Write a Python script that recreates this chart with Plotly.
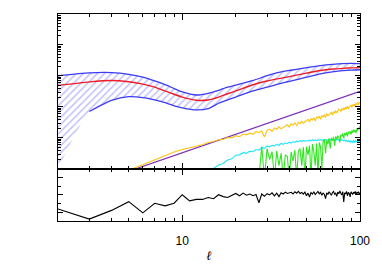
import plotly.graph_objects as go
from plotly.subplots import make_subplots

# ---------------- data ----------------
band_l = [2, 3, 4, 5, 6, 7, 8, 9, 10, 12, 14, 16, 18, 20, 25, 30, 35, 40, 50, 60, 70, 80, 90, 100]
theory = [0.490, 0.641, 0.713, 0.650, 0.545, 0.435, 0.327, 0.256, 0.207, 0.164, 0.167, 0.207,
          0.265, 0.327, 0.519, 0.687, 0.820, 0.944, 1.227, 1.496, 1.663, 1.758, 1.824, 1.849]
band_upper = [1.014, 1.253, 1.280, 1.127, 0.912, 0.687, 0.519, 0.391, 0.305, 0.242, 0.275, 0.344,
              0.435, 0.500, 0.713, 1.014, 1.298, 1.496, 1.849, 2.159, 2.366, 2.505, 2.541, 2.488]
# lower bound; at l=2 it falls off the bottom of the plot
band_lower = [0.001, 0.0708, 0.162, 0.214, 0.200, 0.168, 0.136, 0.108, 0.0932, 0.0798, 0.0875, 0.131,
              0.168, 0.207, 0.327, 0.435, 0.556, 0.664, 0.912, 1.167, 1.345, 1.475, 1.549, 1.582]

purple_l = [5, 10, 20, 30, 50, 70, 100]
purple = [0.00083, 0.00325, 0.0129, 0.0288, 0.0798, 0.156, 0.316]

yellow_l = list(range(5, 101))
yellow = [0.00089, 0.00138, 0.00195, 0.00269, 0.00347, 0.00417, 0.00468, 0.0055, 0.0060, 0.0071,
          0.0076, 0.0087, 0.0089, 0.0102, 0.0100, 0.0117, 0.0109, 0.0132, 0.0124, 0.0141,
          0.0130, 0.0158, 0.0149, 0.0166, 0.0107, 0.0174, 0.0191, 0.0162, 0.0209, 0.0190,
          0.0229, 0.0195, 0.0218, 0.0240, 0.0263, 0.0224, 0.0282, 0.0257, 0.0302, 0.0251,
          0.0316, 0.0288, 0.0347, 0.0295, 0.0331, 0.0372, 0.0398, 0.0326, 0.0417, 0.0380,
          0.0447, 0.0347, 0.0468, 0.0437, 0.0501, 0.0398, 0.0525, 0.0468, 0.0562, 0.0447,
          0.0603, 0.0525, 0.0575, 0.0631, 0.0661, 0.0540, 0.0708, 0.0617, 0.0759, 0.0631,
          0.0724, 0.0851, 0.0794, 0.0708, 0.0891, 0.0776, 0.0933, 0.0813, 0.100, 0.0851,
          0.105, 0.0871, 0.0977, 0.110, 0.115, 0.0955, 0.117, 0.107, 0.123, 0.105,
          0.129, 0.118, 0.138, 0.117, 0.141, 0.132]

cyan_l = list(range(14, 101))
cyan = [0.00079, 0.00105, 0.00132, 0.00148, 0.00191, 0.00209, 0.00275, 0.00282, 0.00331, 0.00316,
        0.00372, 0.00355, 0.00417, 0.00398, 0.00479, 0.00457, 0.00550, 0.00513, 0.00575, 0.00550,
        0.00617, 0.00575, 0.00661, 0.00617, 0.00692, 0.00646, 0.00724, 0.00676, 0.00759, 0.00708,
        0.00776, 0.00741, 0.00813, 0.00759, 0.00832, 0.00776, 0.00813, 0.00776, 0.00851, 0.00794,
        0.00871, 0.00813, 0.00851, 0.00794, 0.00871, 0.00832, 0.00891, 0.00813, 0.00871, 0.00832,
        0.00891, 0.00832, 0.00871, 0.00912, 0.00851, 0.00891, 0.00851, 0.00912, 0.00832, 0.00891,
        0.00851, 0.00912, 0.00832, 0.00871, 0.00813, 0.00871, 0.00832, 0.00794, 0.00851, 0.00776,
        0.00832, 0.00759, 0.00813, 0.00741, 0.00794, 0.00724, 0.00776, 0.00708, 0.00794, 0.00724,
        0.00813, 0.00741, 0.00794, 0.00708, 0.00776, 0.00692, 0.00759]

green_l = list(range(20, 101))
green = [0.00105, 0.0005, 0.0005, 0.00071, 0.0005, 0.0005, 0.0005, 0.0005, 0.00525, 0.0005,
         0.00447, 0.002, 0.00355, 0.0005, 0.0038, 0.00126, 0.00316, 0.0005, 0.00282, 0.00251,
         0.0005, 0.00355, 0.00178, 0.00398, 0.0005, 0.0038, 0.00447, 0.00126, 0.005, 0.0005,
         0.00525, 0.00282, 0.00562, 0.0005, 0.0063, 0.00355, 0.00126, 0.0066, 0.00063, 0.00708,
         0.005, 0.001, 0.00759, 0.00891, 0.00316, 0.00832, 0.0063, 0.00955, 0.00447, 0.0100,
         0.00794, 0.0107, 0.00562, 0.0110, 0.00891, 0.0117, 0.0105, 0.00708, 0.0126, 0.0110,
         0.0138, 0.00955, 0.0141, 0.0120, 0.0151, 0.0112, 0.0158, 0.0138, 0.0162, 0.0126,
         0.0174, 0.0145, 0.0182, 0.0158, 0.0178, 0.0141, 0.0200, 0.0174, 0.0209, 0.0191,
         0.0240]

ratio_l = list(range(2, 101))
ratio = [-0.81, -1.39, -0.89, -0.39, -1.03, -0.48, -0.63, -0.48, 0.01, -0.34,
         -0.26, -0.26, -0.15, -0.22, 0.01, -0.10, -0.15, -0.05, 0.08, -0.05,
         0.10, -0.02, 0.05, -0.05, 0.02, -0.45, 0.05, -0.08, 0.07, 0.00,
         0.12, -0.06, 0.10, -0.10, 0.12, 0.05, 0.16, 0.08, 0.12, 0.15,
         0.05, 0.18, 0.10, 0.20, 0.08, 0.14, 0.04, 0.16, -0.05, 0.10,
         -0.12, 0.14, 0.05, 0.18, 0.02, 0.12, 0.20, 0.06, 0.15, -0.02,
         0.10, 0.04, -0.21, 0.12, 0.02, 0.18, 0.08, -0.02, 0.14, 0.20,
         0.04, 0.10, -0.08, 0.16, 0.06, 0.22, 0.10, 0.00, 0.18, -0.40,
         0.12, 0.05, 0.20, -0.05, 0.15, 0.08, -0.12, 0.18, 0.10, 0.04,
         0.16, 0.08, 0.20, 0.02, 0.14, 0.10, 0.18, 0.06, 0.12]

x_tickvals = [10, 100]
x_ticktext = ["10", "100"]

# ---------------- figure ----------------
BLUE = "#3c3cf5"
fig = make_subplots(rows=2, cols=1, shared_xaxes=True, vertical_spacing=0,
                    row_heights=[163 / 218, 55 / 218])

# hatched cosmic-variance band
fig.add_trace(go.Scatter(
    x=band_l + band_l[::-1], y=band_upper + band_lower[::-1],
    mode="lines", line=dict(width=0, shape="spline", smoothing=0.6), fill="toself",
    fillcolor="rgba(0,0,0,0)",
    fillpattern=dict(shape="/", fgcolor="#8484f5", bgcolor="rgba(255,255,255,0)", size=5, solidity=0.3),
    hoverinfo="skip", showlegend=False), row=1, col=1)
fig.add_trace(go.Scatter(x=band_l, y=band_upper, mode="lines",
                         line=dict(color=BLUE, width=1.3, shape="spline", smoothing=0.6),
                         showlegend=False), row=1, col=1)
fig.add_trace(go.Scatter(x=band_l[1:], y=band_lower[1:], mode="lines",
                         line=dict(color=BLUE, width=1.3, shape="spline", smoothing=0.6),
                         showlegend=False), row=1, col=1)
fig.add_trace(go.Scatter(x=purple_l, y=purple, mode="lines",
                         line=dict(color="#7a30b8", width=1.2), showlegend=False), row=1, col=1)
fig.add_trace(go.Scatter(x=yellow_l, y=yellow, mode="lines",
                         line=dict(color="#ffc20e", width=1.1), showlegend=False), row=1, col=1)
fig.add_trace(go.Scatter(x=cyan_l, y=cyan, mode="lines",
                         line=dict(color="#22e4ff", width=1.1), showlegend=False), row=1, col=1)
fig.add_trace(go.Scatter(x=green_l, y=green, mode="lines",
                         line=dict(color="#30e620", width=1.1), showlegend=False), row=1, col=1)
fig.add_trace(go.Scatter(x=band_l, y=theory, mode="lines",
                         line=dict(color="#ee1c25", width=1.4, shape="spline", smoothing=0.6),
                         showlegend=False), row=1, col=1)

fig.add_trace(go.Scatter(x=ratio_l, y=ratio, mode="lines",
                         line=dict(color="black", width=1.1), showlegend=False), row=2, col=1)

axis_common = dict(showline=True, linecolor="black", linewidth=1.3, mirror="allticks",
                   ticks="inside", tickcolor="black", tickwidth=1, showgrid=False, zeroline=False)

xcommon = dict(type="log", range=[0.30103, 2], tickvals=x_tickvals, ticktext=x_ticktext, ticklen=6,
               minor=dict(ticks="inside", ticklen=3, tickcolor="black", tickwidth=1,
                          tickvals=[2, 3, 4, 5, 6, 7, 8, 9, 20, 30, 40, 50, 60, 70, 80, 90],
                          showgrid=False),
               **axis_common)
fig.update_xaxes(showticklabels=False, row=1, col=1, **xcommon)
fig.update_xaxes(showticklabels=True, row=2, col=1,
                 tickfont=dict(family="Liberation Sans, Arial, sans-serif", size=12, color="black"),
                 ticklabelstandoff=8,
                 title=dict(text="<i>ℓ</i>", font=dict(family="DejaVu Serif, serif", size=13, color="black"),
                            standoff=4),
                 **xcommon)

fig.update_yaxes(type="log", range=[-3, 2], dtick=1, ticklen=5, showticklabels=False,
                 minor=dict(ticks="inside", ticklen=2.5, tickcolor="black", tickwidth=1, dtick="D1",
                            showgrid=False),
                 row=1, col=1, **axis_common)
fig.update_yaxes(range=[-1.5, 1.5], dtick=1, tick0=0, ticklen=5, showticklabels=False,
                 minor=dict(ticks="inside", ticklen=3, tickcolor="black", tickwidth=1, dtick=0.5,
                            showgrid=False),
                 row=2, col=1, **axis_common)

fig.update_layout(width=382, height=273, margin=dict(l=58, r=19, t=14, b=41),
                  paper_bgcolor="white", plot_bgcolor="white", showlegend=False)

fig.write_html("out.html", config={"displayModeBar": False},
               post_script="document.body.style.margin='0';document.body.style.overflow='hidden';")
